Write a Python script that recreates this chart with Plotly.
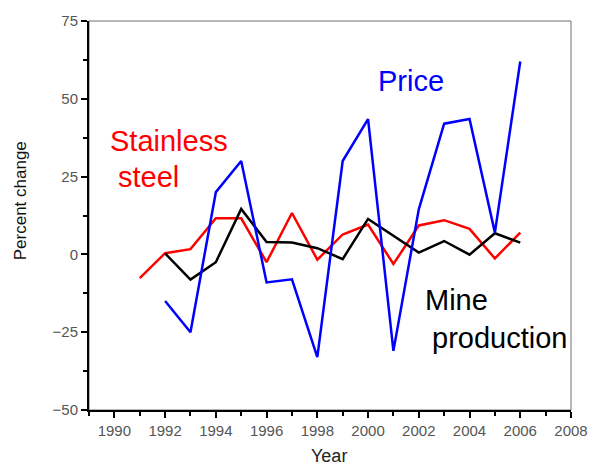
import plotly.graph_objects as go

# Annual percent change
years_price = list(range(1992, 2007))
price = [-15, -25, 20, 30, -9, -8, -33, 30, 43.5, -31, 14.5, 42, 43.5, 7, 62]

years_steel = list(range(1991, 2007))
stainless_steel = [-7.6, 0.4, 1.7, 11.6, 11.6, -2.5, 13.3, -1.7, 6.4, 9.6, -3.1, 9.3, 11.0, 8.2, -1.3, 7.0]

years_mine = list(range(1992, 2007))
mine_production = [0.3, -8.1, -2.5, 14.6, 4.0, 3.8, 2.0, -1.5, 11.4, 6.0, 0.6, 4.3, -0.1, 6.8, 3.8]

x_ticks = list(range(1990, 2009, 2))
y_ticks = [-50, -25, 0, 25, 50, 75]

FONT = "Liberation Sans, Arial, sans-serif"

fig = go.Figure()
fig.add_trace(go.Scatter(x=years_steel, y=stainless_steel, mode="lines",
                         line=dict(color="#ff0000", width=2.5), name="Stainless steel"))
fig.add_trace(go.Scatter(x=years_mine, y=mine_production, mode="lines",
                         line=dict(color="#000000", width=2.5), name="Mine production"))
fig.add_trace(go.Scatter(x=years_price, y=price, mode="lines",
                         line=dict(color="#0000ff", width=2.5), name="Price"))

# Thin grey frame along top and right
fig.add_shape(type="rect", xref="paper", yref="paper", x0=0, y0=0, x1=1, y1=1,
              line=dict(color="#707070", width=1), layer="below")

# Series labels inside the plot
fig.add_annotation(x=2001.7, y=55.8, text="Price", showarrow=False,
                   font=dict(family=FONT, size=29, color="#0000ff"))
fig.add_annotation(x=1989.75, y=36.3, text="Stainless", showarrow=False, xanchor="left",
                   font=dict(family=FONT, size=29, color="#ff0000"))
fig.add_annotation(x=1990.05, y=25.0, text="steel", showarrow=False, xanchor="left",
                   font=dict(family=FONT, size=29, color="#ff0000"))
fig.add_annotation(x=2002.15, y=-14.6, text="Mine", showarrow=False, xanchor="left",
                   font=dict(family=FONT, size=29, color="#000000"))
fig.add_annotation(x=2002.45, y=-26.8, text="production", showarrow=False, xanchor="left",
                   font=dict(family=FONT, size=29, color="#000000"))

# Axis titles
fig.add_annotation(xref="paper", yref="paper", x=-0.142, y=0.538, text="Percent change",
                   textangle=-90, showarrow=False, xanchor="center", yanchor="middle",
                   font=dict(family=FONT, size=17, color="#111111"))
fig.add_annotation(xref="paper", yref="paper", x=0.498, y=-0.119, text="Year",
                   showarrow=False, xanchor="center", yanchor="middle",
                   font=dict(family=FONT, size=18, color="#222222"))

fig.update_layout(
    width=600, height=468,
    margin=dict(l=89, r=26, t=16, b=58),
    paper_bgcolor="white", plot_bgcolor="white",
    showlegend=False,
    font=dict(family=FONT, size=15, color="#555555"),
    xaxis=dict(
        range=[1989, 2008], tickvals=x_ticks, ticks="outside", ticklen=6, tickwidth=2,
        tickcolor="black", showline=True, linecolor="black", linewidth=2,
        showgrid=False, zeroline=False,
        minor=dict(dtick=1, tick0=1989, ticks="outside", ticklen=4, tickwidth=2, tickcolor="black"),
        tickfont=dict(size=15, color="#555555"),
    ),
    yaxis=dict(
        range=[-50, 75], tickvals=y_ticks, ticks="outside", ticklen=6, tickwidth=2,
        tickcolor="black", showline=True, linecolor="black", linewidth=2,
        showgrid=False, zeroline=False,
        minor=dict(dtick=12.5, tick0=0, ticks="outside", ticklen=4, tickwidth=2, tickcolor="black"),
        tickfont=dict(size=15, color="#555555"),
    ),
)

fig.write_html("out.html")
